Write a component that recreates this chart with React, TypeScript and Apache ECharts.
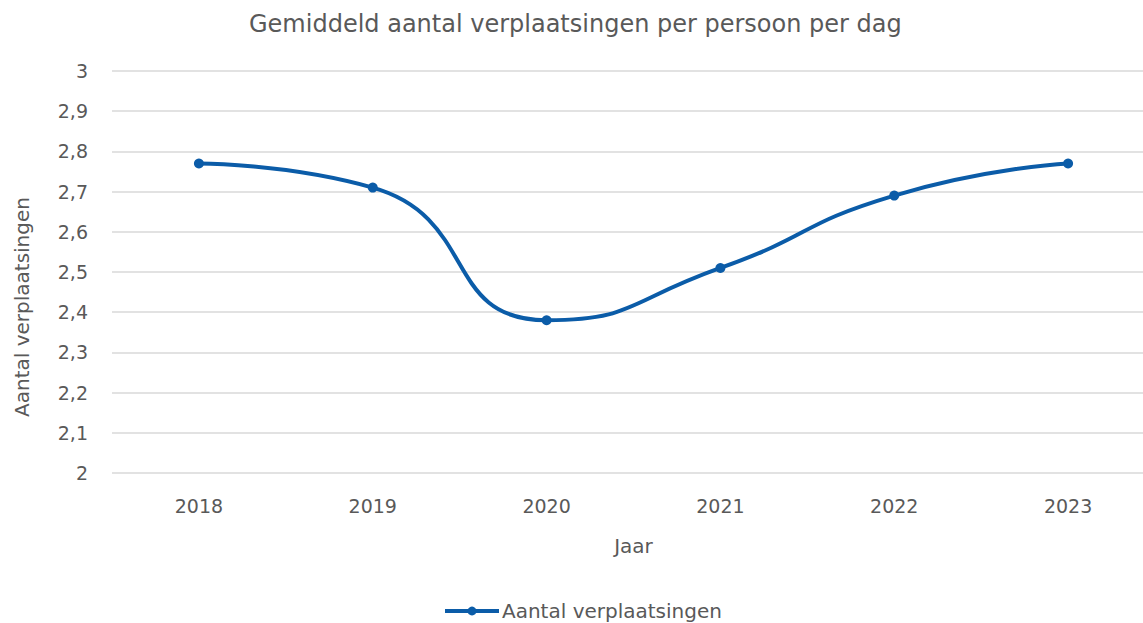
import React, { useEffect, useRef } from "react";
import * as echarts from "echarts";

const categories = ["2018", "2019", "2020", "2021", "2022", "2023"];
const values = [2.77, 2.71, 2.38, 2.51, 2.69, 2.77];
const seriesName = "Aantal verplaatsingen";
const titleText = "Gemiddeld aantal verplaatsingen per persoon per dag";
const xName = "Jaar";
const yName = "Aantal verplaatsingen";

const FONT = "'DejaVu Sans', sans-serif";
const GREY = "#595959";
const BLUE = "#0B5CA8";

export default function App() {
  const ref = useRef<HTMLDivElement>(null);
  useEffect(() => {
    document.body.style.margin = "0";
    document.body.style.overflow = "hidden";
    const chart = echarts.init(ref.current!, null, { renderer: "svg" });
    chart.setOption({
      animation: false,
      backgroundColor: "#ffffff",
      title: {
        text: titleText,
        left: 244,
        top: 7,
        textStyle: { fontFamily: FONT, fontSize: 24, fontWeight: "normal", color: GREY },
      },
      grid: { left: 112, right: 0, top: 71, bottom: 150 },
      xAxis: {
        type: "category",
        data: categories,
        boundaryGap: true,
        name: xName,
        nameLocation: "middle",
        nameGap: 63,
        nameTextStyle: { fontFamily: FONT, fontSize: 20, color: GREY },
        axisLine: { show: false },
        axisTick: { show: false },
        axisLabel: { fontFamily: FONT, fontSize: 19, color: GREY, margin: 23 },
      },
      yAxis: {
        type: "value",
        min: 2,
        max: 3,
        interval: 0.1,
        axisLine: { show: false },
        axisTick: { show: false },
        splitLine: { lineStyle: { color: "#d9d9d9", width: 1.5 } },
        axisLabel: {
          fontFamily: FONT,
          fontSize: 19,
          color: GREY,
          margin: 24,
          formatter: (v: number) => String(Math.round(v * 10) / 10).replace(".", ","),
        },
      },
      legend: {
        data: [seriesName],
        top: 596,
        left: 438,
        itemWidth: 54,
        itemHeight: 11,
        itemGap: 0,
        lineStyle: { width: 4 },
        textStyle: { fontFamily: FONT, fontSize: 20, color: GREY, padding: [0, 0, 0, -2] },
      },
      graphic: [
        {
          type: "text",
          x: 22,
          y: 307,
          rotation: Math.PI / 2,
          style: {
            text: yName,
            fontFamily: FONT,
            fontSize: 20,
            fill: GREY,
            align: "center",
            verticalAlign: "middle",
          },
        },
      ],
      series: [
        {
          name: seriesName,
          type: "line",
          data: values,
          smooth: 0.55,
          symbol: "circle",
          symbolSize: 10,
          lineStyle: { color: BLUE, width: 4 },
          itemStyle: { color: BLUE },
        },
      ],
    });
    return () => chart.dispose();
  }, []);
  return (
    <div style={{ width: 1143, height: 623, overflow: "hidden", position: "relative" }}>
      <div ref={ref} style={{ width: 1155, height: 623 }} />
    </div>
  );
}
